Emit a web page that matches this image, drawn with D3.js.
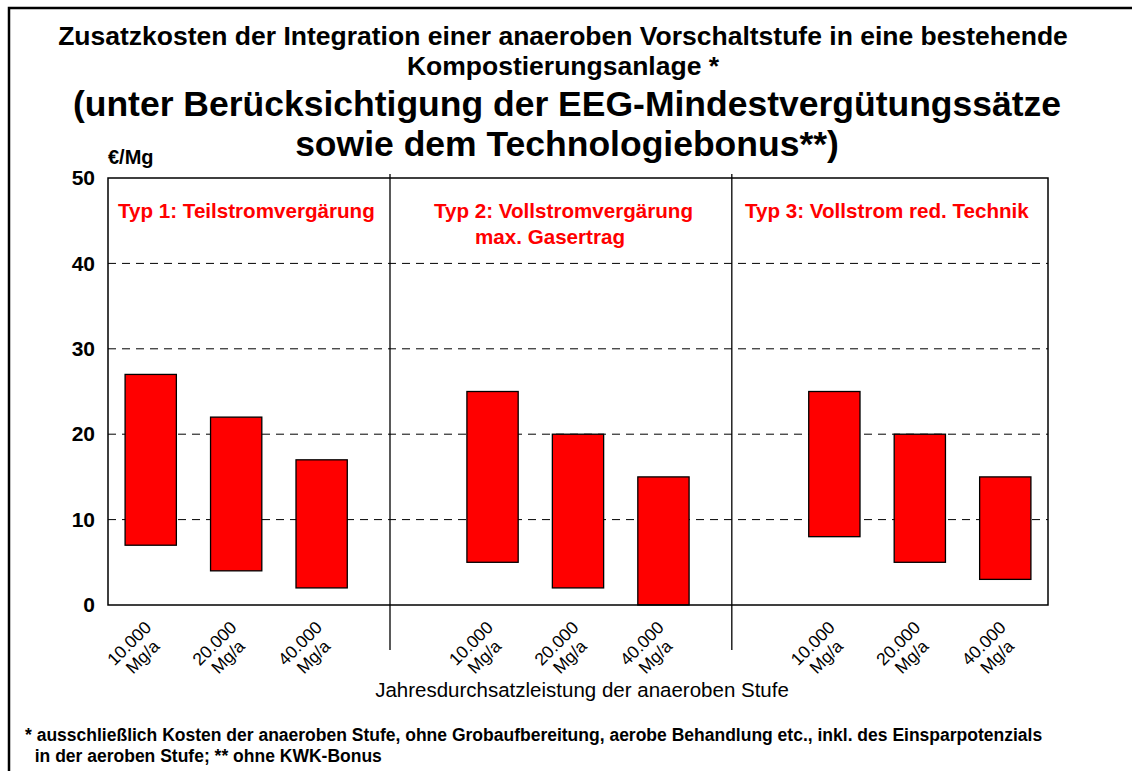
<!DOCTYPE html>
<html>
<head>
<meta charset="utf-8">
<script src="https://cdn.jsdelivr.net/npm/d3@7"></script>
<style>
  body { margin: 0; background: #fff; }
  svg { display: block; font-family: "Liberation Sans", Arial, sans-serif; }
</style>
</head>
<body>
<div id="chart"></div>
<script>
// categories: 3 per type, with an empty slot between types
var slots = ["t1a", "t1b", "t1c", "gap1", "t2a", "t2b", "t2c", "gap2", "t3a", "t3b", "t3c"]
var barSlots = ["t1a", "t1b", "t1c", "t2a", "t2b", "t2c", "t3a", "t3b", "t3c"]
var tickLines = [["10.000", "Mg/a"], ["20.000", "Mg/a"], ["40.000", "Mg/a"],
                 ["10.000", "Mg/a"], ["20.000", "Mg/a"], ["40.000", "Mg/a"],
                 ["10.000", "Mg/a"], ["20.000", "Mg/a"], ["40.000", "Mg/a"]]
var lowValues = [7, 4, 2, 5, 2, 0, 8, 5, 3]
var highValues = [27, 22, 17, 25, 20, 15, 25, 20, 15]
var yTicks = [0, 10, 20, 30, 40, 50]
var typeLabels = [
  ["Typ 1: Teilstromvergärung"],
  ["Typ 2: Vollstromvergärung", "max. Gasertrag"],
  ["Typ 3: Vollstrom red. Technik"]
]
var titleLines = [
  "Zusatzkosten der Integration einer anaeroben Vorschaltstufe in eine bestehende",
  "Kompostierungsanlage *"
]
var subtitleLines = [
  "(unter Berücksichtigung der EEG-Mindestvergütungssätze",
  "sowie dem Technologiebonus**)"
]
var footLines = [
  "* ausschließlich Kosten der anaeroben Stufe, ohne Grobaufbereitung, aerobe Behandlung etc., inkl. des Einsparpotenzials",
  "  in der aeroben Stufe; ** ohne KWK-Bonus"
]

var width = 1132, height = 771
var pLeft = 108, pRight = 1048, pTop = 178, pBottom = 605

var svg = d3.select("#chart").append("svg")
  .attr("width", width)
  .attr("height", height)

// outer frame (left + top only visible)
svg.append("path")
  .attr("d", "M9," + height + " L9,8 L" + width + ",8")
  .attr("fill", "none")
  .attr("stroke", "#000")
  .attr("stroke-width", 2.5)

var x = d3.scaleBand().domain(slots).range([pLeft, pRight]).paddingInner(0).paddingOuter(0)
var y = d3.scaleLinear().domain([0, 50]).range([pBottom, pTop])

// titles
svg.selectAll(".title").data(titleLines).enter().append("text")
  .attr("x", 563)
  .attr("y", function(d, i) { return 45 + i * 30 })
  .attr("text-anchor", "middle")
  .attr("font-size", 26.5)
  .attr("font-weight", "bold")
  .text(function(d) { return d })

svg.selectAll(".subtitle").data(subtitleLines).enter().append("text")
  .attr("x", 567)
  .attr("y", function(d, i) { return 116 + i * 40 })
  .attr("text-anchor", "middle")
  .attr("font-size", 35.5)
  .attr("font-weight", "bold")
  .text(function(d) { return d })

// gridlines
svg.selectAll(".grid").data(yTicks.filter(function(d) { return d > 0 && d < 50 }))
  .enter().append("line")
  .attr("x1", pLeft).attr("x2", pRight)
  .attr("y1", function(d) { return y(d) })
  .attr("y2", function(d) { return y(d) })
  .attr("stroke", "#000")
  .attr("stroke-width", 1)
  .attr("stroke-dasharray", "8,6")

// bars
svg.selectAll(".bar").data(barSlots).enter().append("rect")
  .attr("x", function(d) { return x(d) + x.bandwidth() * 0.2 })
  .attr("width", x.bandwidth() * 0.6)
  .attr("y", function(d, i) { return y(highValues[i]) })
  .attr("height", function(d, i) { return y(lowValues[i]) - y(highValues[i]) })
  .attr("fill", "#ff0000")
  .attr("stroke", "#000")
  .attr("stroke-width", 1.3)

// plot frame
svg.append("rect")
  .attr("x", pLeft).attr("y", pTop)
  .attr("width", pRight - pLeft).attr("height", pBottom - pTop)
  .attr("fill", "none")
  .attr("stroke", "#000")
  .attr("stroke-width", 1.5)

// separators between types
;["gap1", "gap2"].forEach(function(s) {
  var sx = x(s) + x.bandwidth() * 0.3
  svg.append("line")
    .attr("x1", sx).attr("x2", sx)
    .attr("y1", pTop - 4).attr("y2", 650)
    .attr("stroke", "#000")
    .attr("stroke-width", 1.3)
})

// y axis labels
var yAxis = d3.axisLeft(y).tickValues(yTicks).tickSize(0).tickPadding(13)
var ya = svg.append("g").attr("transform", "translate(" + pLeft + ",0)").call(yAxis)
ya.select(".domain").remove()
ya.selectAll("text")
  .attr("font-family", "Liberation Sans, Arial, sans-serif")
  .attr("font-size", 21)
  .attr("font-weight", "bold")
  .attr("fill", "#000")

svg.append("text")
  .attr("x", 108).attr("y", 164)
  .attr("font-size", 20)
  .attr("font-weight", "bold")
  .text("€/Mg")

// type labels
var typeX = [118, 434, 745]
typeLabels.forEach(function(lines, k) {
  lines.forEach(function(t, j) {
    svg.append("text")
      .attr("x", typeX[k] + (j > 0 ? 41 : 0))
      .attr("y", 218 + j * 26)
      .attr("font-size", 20.6)
      .attr("font-weight", "bold")
      .attr("fill", "#ff0000")
      .text(t)
  })
})

// x tick labels, rotated -45
barSlots.forEach(function(s, i) {
  var cx = x(s) + x.bandwidth() / 2
  var g = svg.append("g")
    .attr("transform", "translate(" + (cx - 15) + ",650) rotate(-45)")
  tickLines[i].forEach(function(t, j) {
    g.append("text")
      .attr("x", 0)
      .attr("y", j * 19 - 9.5)
      .attr("dy", "0.35em")
      .attr("text-anchor", "middle")
      .attr("font-size", 17.5)
      .text(t)
  })
})

// x axis title
svg.append("text")
  .attr("x", 582).attr("y", 697)
  .attr("text-anchor", "middle")
  .attr("font-size", 20.5)
  .text("Jahresdurchsatzleistung der anaeroben Stufe")

// footnote
svg.selectAll(".foot").data(footLines).enter().append("text")
  .attr("x", 25)
  .attr("y", function(d, i) { return 741 + i * 21 })
  .attr("font-size", 17.5)
  .attr("font-weight", "bold")
  .attr("xml:space", "preserve")
  .style("white-space", "pre")
  .text(function(d) { return d })
</script>
</body>
</html>
